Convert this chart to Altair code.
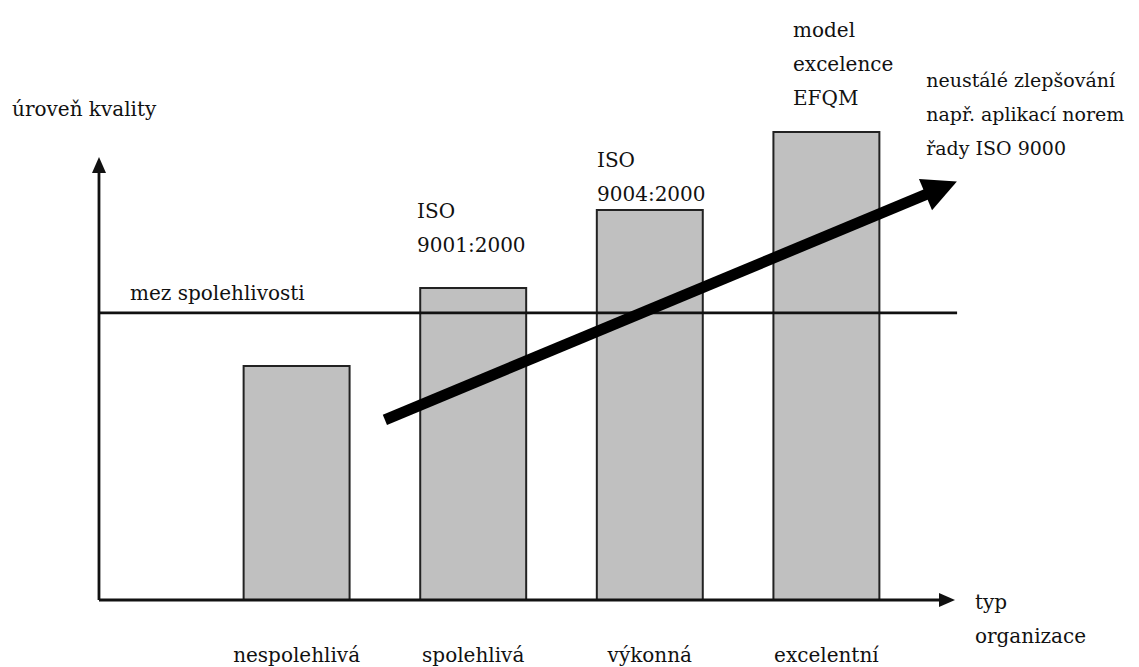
import altair as alt
import pandas as pd

# ---- data -------------------------------------------------------------
categories = ["nespolehlivá", "spolehlivá", "výkonná", "excelentní"]
category_pos = [1, 2, 3, 4]
quality = [3, 4, 5, 6]
reliability_limit = 3.68
trend_from = [1.50, 2.31]   # (category position, quality level)
trend_to = [4.65, 5.28]

y_title = "úroveň kvality"
x_title = ["typ", "organizace"]
limit_label = "mez spolehlivosti"
bar_notes = [["ISO", "9001:2000"], ["ISO", "9004:2000"], ["model", "excelence", "EFQM"]]
trend_label = ["neustálé zlepšování", "např. aplikací norem", "řady ISO 9000"]

# ---- scales -----------------------------------------------------------
XS = alt.Scale(domain=[-0.6795, 5.7701], nice=False, zero=False)
YS = alt.Scale(domain=[-0.859, 7.692], nice=False, zero=False)
FONT = "DejaVu Serif"
FS = 20
INK = "#111111"
AXIS_AT = -0.119

bars = pd.DataFrame({
    "cat": categories,
    "pos": category_pos,
    "q": quality,
})
bars["x0"] = bars["pos"] - 0.3
bars["x1"] = bars["pos"] + 0.3
bars["base"] = 0


def X(f, **kw):
    return alt.X(f, type="quantitative", scale=XS, axis=None, **kw)


def Y(f, **kw):
    return alt.Y(f, type="quantitative", scale=YS, axis=None, **kw)


bar_layer = alt.Chart(bars).mark_rect(
    fill="#c0c0c0", stroke="#222222", strokeWidth=2
).encode(x=X("x0"), x2="x1", y=Y("base"), y2="q")

cat_layer = alt.Chart(bars.assign(ly=-0.795)).mark_text(
    font=FONT, fontSize=FS, color=INK, align="center", baseline="alphabetic"
).encode(x=X("pos"), y=Y("ly"), text="cat")

# axes + limit line
lines = pd.DataFrame([
    {"x": AXIS_AT, "x2": AXIS_AT, "y": 0, "y2": 5.577},
    {"x": AXIS_AT, "x2": 4.683, "y": 0, "y2": 0},
    {"x": AXIS_AT, "x2": 4.740, "y": reliability_limit, "y2": reliability_limit},
])
line_layer = alt.Chart(lines).mark_rule(color=INK, strokeWidth=2.8).encode(
    x=X("x"), x2="x2", y=Y("y"), y2="y2"
)

heads = pd.DataFrame([
    {"x": AXIS_AT, "y": 5.577, "a": 0},
    {"x": 4.683, "y": 0, "a": 90},
])
head_layer = alt.Chart(heads).mark_point(
    shape="M0,-1L-0.875,1L0.875,1Z", size=256, filled=True, color=INK, opacity=1
).encode(x=X("x"), y=Y("y"), angle=alt.Angle("a:Q", scale=None))

trend = pd.DataFrame([
    {"x": trend_from[0], "y": trend_from[1], "x2": trend_to[0], "y2": trend_to[1]}
])
trend_line = alt.Chart(trend).mark_rule(color="#000000", strokeWidth=11, strokeCap="butt").encode(
    x=X("x"), x2="x2", y=Y("y"), y2="y2"
)
trend_head = alt.Chart(trend).mark_point(
    shape="M0,-1L-1,1L1,1Z", size=1156, filled=True, color="#000000", opacity=1, angle=67.4
).encode(x=X("x2"), y=Y("y2"))

labels = pd.DataFrame([
    {"x": -0.6115, "y": 6.205, "t": [y_title], "s": FS},
    {"x": 0.0566, "y": 3.846, "t": [limit_label], "s": FS},
    {"x": 1.682, "y": 4.897, "t": bar_notes[0], "s": FS},
    {"x": 2.701, "y": 5.551, "t": bar_notes[1], "s": FS},
    {"x": 3.811, "y": 7.218, "t": bar_notes[2], "s": FS},
    {"x": 4.565, "y": 6.577, "t": trend_label, "s": 19},
    {"x": 4.841, "y": -0.115, "t": x_title, "s": FS},
])
label_layer = alt.Chart(labels).mark_text(
    font=FONT, color=INK, align="left", baseline="alphabetic", lineHeight=34
).encode(x=X("x"), y=Y("y"), text="t", size=alt.Size("s:Q", scale=None))

chart = alt.layer(
    bar_layer, line_layer, head_layer, trend_line, trend_head, cat_layer, label_layer
).properties(
    width=1139, height=667, autosize=alt.AutoSizeParams(type="none"), padding=0,
    background="white"
).configure_view(stroke=None).configure_text(font=FONT)

chart.save("out.html", embed_options={"renderer": "svg", "actions": False})
